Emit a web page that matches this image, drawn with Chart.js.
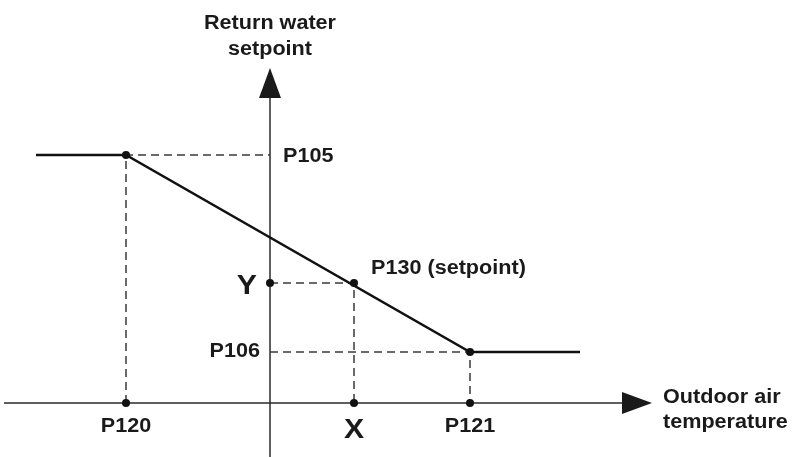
<!DOCTYPE html>
<html>
<head>
<meta charset="utf-8">
<script src="https://cdn.jsdelivr.net/npm/chart.js@4.4.1/dist/chart.umd.min.js"></script>
<style>
  html, body { margin: 0; padding: 0; background: #fff; }
  #wrap { width: 793px; height: 457px; position: relative; }
</style>
</head>
<body>
<div id="wrap"><canvas id="curveChart"></canvas></div>
<script>
// schematic units: origin where the two axes cross
const xTickLabels = ['P120', 'X', 'P121'];
const xTickValues = [-144, 84, 200];
const yTickLabels = ['P105', 'Y', 'P106'];
const yTickValues = [248, 120, 51];

const curveX = [-234, -144, 200, 310];
const curveY = [248, 248, 51, 51];

const xAxisRange = [-266, 382];
const yAxisRange = [-54, 335];

const yAxisTitle = ['Return water', 'setpoint'];
const xAxisTitle = ['Outdoor air', 'temperature'];
const setpointLabel = 'P130 (setpoint)';

const FONT = '"Liberation Sans", Arial, sans-serif';
const STRETCH = 1.08;

const curvePoints = curveX.map((x, i) => ({ x, y: curveY[i] }));
const setPt = { x: xTickValues[1], y: yTickValues[1] };

const dots = [
    { x: xTickValues[0], y: yTickValues[0] },
    setPt,
    { x: xTickValues[2], y: yTickValues[2] },
    { x: 0, y: yTickValues[1] },
    { x: xTickValues[0], y: 0 },
    { x: xTickValues[1], y: 0 },
    { x: xTickValues[2], y: 0 }
];

function guide(data) {
    return { data, showLine: true, borderColor: '#3a3a3a', borderWidth: 1.5, borderDash: [8, 5], pointRadius: 0, clip: false };
}

// bold text, a bit wider than Liberation Sans to match the original lettering
function label(ctx, text, x, y, align, size) {
    ctx.save();
    ctx.font = 'bold ' + size + 'px ' + FONT;
    ctx.textAlign = align;
    ctx.translate(x, y);
    ctx.scale(STRETCH, 1);
    ctx.fillText(text, 0, 0);
    ctx.restore();
}

const axesPlugin = {
    id: 'axes',
    beforeDatasetsDraw(chart) {
        const { ctx, scales: { x, y } } = chart;
        const x0 = x.getPixelForValue(0), y0 = y.getPixelForValue(0);
        const xl = x.getPixelForValue(xAxisRange[0]), xr = x.getPixelForValue(xAxisRange[1]);
        const yb = y.getPixelForValue(yAxisRange[0]), yt = y.getPixelForValue(yAxisRange[1]);
        ctx.save();
        ctx.strokeStyle = '#2b2b2b';
        ctx.lineWidth = 1.5;
        ctx.beginPath();
        ctx.moveTo(xl, y0); ctx.lineTo(xr - 25, y0);
        ctx.moveTo(x0, yb); ctx.lineTo(x0, yt + 25);
        ctx.stroke();
        ctx.fillStyle = '#1a1a1a';
        ctx.beginPath();
        ctx.moveTo(xr, y0); ctx.lineTo(xr - 30, y0 - 11); ctx.lineTo(xr - 30, y0 + 11); ctx.closePath();
        ctx.fill();
        ctx.beginPath();
        ctx.moveTo(x0, yt); ctx.lineTo(x0 - 11, yt + 30); ctx.lineTo(x0 + 11, yt + 30); ctx.closePath();
        ctx.fill();
        ctx.restore();
    },
    afterDraw(chart) {
        const { ctx, scales: { x, y } } = chart;
        const x0 = x.getPixelForValue(0), y0 = y.getPixelForValue(0);
        const xEnd = x.getPixelForValue(xAxisRange[1]);
        ctx.save();
        ctx.fillStyle = '#1a1a1a';
        ctx.textBaseline = 'alphabetic';

        label(ctx, yAxisTitle[0], x0, 29, 'center', 20);
        label(ctx, yAxisTitle[1], x0, 55, 'center', 20);
        label(ctx, xAxisTitle[0], xEnd + 11, y0, 'left', 20);
        label(ctx, xAxisTitle[1], xEnd + 11, y0 + 25, 'left', 20);

        // y ticks
        label(ctx, yTickLabels[0], x0 + 13, y.getPixelForValue(yTickValues[0]) + 7, 'left', 20);
        label(ctx, yTickLabels[1], x0 - 13, y.getPixelForValue(yTickValues[1]) + 11, 'right', 28);
        label(ctx, yTickLabels[2], x0 - 10, y.getPixelForValue(yTickValues[2]) + 5, 'right', 20);

        // x ticks
        label(ctx, xTickLabels[0], x.getPixelForValue(xTickValues[0]), y0 + 29, 'center', 20);
        label(ctx, xTickLabels[1], x.getPixelForValue(xTickValues[1]), y0 + 35, 'center', 28);
        label(ctx, xTickLabels[2], x.getPixelForValue(xTickValues[2]), y0 + 29, 'center', 20);

        label(ctx, setpointLabel, x.getPixelForValue(setPt.x) + 17, y.getPixelForValue(setPt.y) - 9, 'left', 20);
        ctx.restore();
    }
};

new Chart(document.getElementById('curveChart'), {
    type: 'scatter',
    data: {
        datasets: [
            { data: dots, pointRadius: 4, pointBackgroundColor: '#111', pointBorderWidth: 0, showLine: false, clip: false },
            { data: curvePoints, showLine: true, borderColor: '#111', borderWidth: 2.5, pointRadius: 0, clip: false },
            guide([{ x: xTickValues[0], y: 0 }, { x: xTickValues[0], y: yTickValues[0] }, { x: 0, y: yTickValues[0] }]),
            guide([{ x: 0, y: yTickValues[1] }, { x: xTickValues[1], y: yTickValues[1] }, { x: xTickValues[1], y: 0 }]),
            guide([{ x: 0, y: yTickValues[2] }, { x: xTickValues[2], y: yTickValues[2] }, { x: xTickValues[2], y: 0 }])
        ]
    },
    options: {
        responsive: true,
        maintainAspectRatio: false,
        animation: false,
        layout: { padding: 0, autoPadding: false },
        plugins: { legend: { display: false }, tooltip: { enabled: false } },
        scales: {
            x: { type: 'linear', min: -270, max: 523, display: false },
            y: { type: 'linear', min: -54, max: 403, display: false }
        }
    },
    plugins: [axesPlugin]
});
</script>
</body>
</html>
